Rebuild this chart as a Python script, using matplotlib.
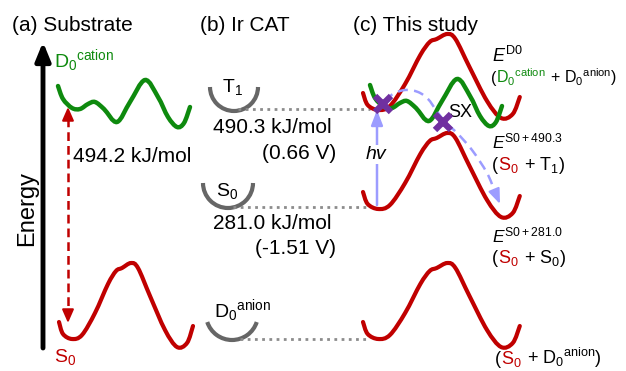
import numpy as np
from matplotlib import pyplot as plt
from matplotlib.path import Path
from matplotlib.patches import PathPatch, Arc, FancyArrowPatch

plt.rcParams['font.family'] = ['Liberation Sans', 'DejaVu Sans']
plt.rcParams['mathtext.fontset'] = 'custom'
plt.rcParams['mathtext.rm'] = 'Liberation Sans'
plt.rcParams['mathtext.it'] = 'Liberation Sans:italic'
plt.rcParams['mathtext.default'] = 'regular'

# Potential curve of the ground state (red):
red_x = [59, 63, 72, 82, 95, 108, 116, 122, 131, 138, 150, 165, 177, 187, 193]
red_y = [322, 334, 339, 335, 313, 284, 271, 268, 263, 268, 296, 330, 347, 343, 326]

# Radical cation curve (green):
green_x = [58, 63, 72, 80, 88, 95, 104, 117, 130, 145, 158, 168, 177, 184, 190]
green_y = [86, 99, 108, 109, 104, 102, 109, 122, 102, 80, 97, 117, 127, 123, 107]

# Ir catalyst levels (panel b):
level_names = ['$T_1$', '$S_0$', '$D_0{}^{anion}$']
level_energy = ['490.3 kJ/mol', '281.0 kJ/mol']
level_volts = ['(0.66 V)', '(-1.51 V)']
substrate_gap = '494.2 kJ/mol'

# Colours:
red = '#C00000'
green = '#0E8A0E'
grey = '#666666'
dotgrey = '#8C8C8C'
blue = '#9C9CFF'
purple = '#7030A0'

figure = plt.figure(figsize=(6.26, 3.71), dpi=100)
ax = figure.add_axes([0, 0, 1, 1])
ax.set_xlim(0, 626)
ax.set_ylim(371, 0)
ax.axis('off')


def smooth(xs, ys):
    pts = np.column_stack([xs, ys]).astype(float)
    verts = [pts[0]]
    codes = [Path.MOVETO]
    n = len(pts)
    for i in range(n - 1):
        p0 = pts[max(i - 1, 0)]
        p1 = pts[i]
        p2 = pts[i + 1]
        p3 = pts[min(i + 2, n - 1)]
        verts += [p1 + (p2 - p0) / 6, p2 - (p3 - p1) / 6, p2]
        codes += [Path.CURVE4] * 3
    return Path(verts, codes)


def curve(xs, ys, x0, y0, sx, color, lw, z=2):
    xs = np.array(xs, float)
    ys = np.array(ys, float)
    px = x0 + (xs - xs[0]) * sx
    py = y0 + (ys - ys[0])
    ax.add_patch(PathPatch(smooth(px, py), fill=False, ec=color, lw=lw,
                           capstyle='round', zorder=z))


def pieces(x, y, parts, size):
    r = figure.canvas.get_renderer()
    for s, c in parts:
        t = ax.text(x, y, s, color=c, fontsize=size, va='baseline', ha='left')
        x += t.get_window_extent(r).width


# Titles
ax.text(12, 31, '(a) Substrate', fontsize=15, va='baseline')
ax.text(200, 31, '(b) Ir CAT', fontsize=15, va='baseline')
ax.text(353, 31, '(c) This study', fontsize=15, va='baseline')

# Energy axis
ax.add_patch(FancyArrowPatch((43, 348), (43, 42), arrowstyle='-|>,head_width=0.45,head_length=1.1',
                             mutation_scale=10, lw=3.5, color='black', shrinkA=0, shrinkB=0))
ax.text(27, 209, 'Energy', fontsize=17, rotation=90, ha='center', va='center')

# Panel (a)
curve(green_x, green_y, 58, 86, 1.0, green, 3.2)
curve(red_x, red_y, 59, 322, 1.0, red, 3.0)
ax.plot([68, 68], [118, 312], color=red, lw=1.8, linestyle=(0, (3.5, 2)))
ax.add_patch(FancyArrowPatch((68, 120), (68, 107), arrowstyle='-|>,head_width=0.35,head_length=0.8',
                             mutation_scale=10, lw=1.5, color=red, shrinkA=0, shrinkB=0))
ax.add_patch(FancyArrowPatch((68, 310), (68, 323), arrowstyle='-|>,head_width=0.35,head_length=0.8',
                             mutation_scale=10, lw=1.5, color=red, shrinkA=0, shrinkB=0))
ax.text(73, 162, substrate_gap, fontsize=15, va='baseline')
ax.text(54, 67, '$D_0{}^{cation}$', fontsize=14, color=green, va='baseline')
ax.text(54, 362, '$S_0$', fontsize=14, color=red, va='baseline')

# Panel (b)
ax.add_patch(Arc((234, 87), 48, 48, theta1=0, theta2=180, color=grey, lw=3))
ax.add_patch(Arc((228, 183), 50, 50, theta1=0, theta2=180, color=grey, lw=3))
ax.add_patch(Arc((232, 314), 52, 52, theta1=18, theta2=162, color=grey, lw=3))
ax.text(222, 92, level_names[0], fontsize=14, va='baseline')
ax.text(216, 196, level_names[1], fontsize=14, va='baseline')
ax.text(214, 317, level_names[2], fontsize=14, va='baseline')
dots = (0, (1, 1.6))
ax.plot([238, 370], [109, 109], color=dotgrey, lw=2, linestyle=dots)
ax.plot([233, 366], [207, 207], color=dotgrey, lw=2, linestyle=dots)
ax.plot([240, 368], [339, 339], color=dotgrey, lw=2, linestyle=dots)
ax.text(213, 133, level_energy[0], fontsize=15, va='baseline')
ax.text(336, 159, level_volts[0], fontsize=15, va='baseline', ha='right')
ax.text(213, 229, level_energy[1], fontsize=15, va='baseline')
ax.text(336, 254, level_volts[1], fontsize=15, va='baseline', ha='right')

# Panel (c)
curve(red_x, red_y, 363, 93, 1.17, red, 3.0)
curve(red_x, red_y, 363, 192, 1.17, red, 3.0)
curve(red_x, red_y, 363, 322, 1.17, red, 3.0)
curve(green_x, green_y, 370, 85, 1.0, green, 3.2, z=3)

# hv excitation
ax.add_patch(FancyArrowPatch((377, 205), (377, 110), arrowstyle='-|>,head_width=0.35,head_length=0.9',
                             mutation_scale=10, lw=1.8, color=blue, shrinkA=0, shrinkB=0, zorder=4))
ax.text(376, 159, 'hv', fontsize=14, style='italic', ha='center', va='baseline',
        bbox=dict(fc='white', ec='none', pad=1), zorder=5)

# relaxation path
path_x = [385, 393, 405, 418, 428, 436, 445, 457, 472, 487, 495]
path_y = [101, 94, 90, 92, 99, 110, 122, 133, 150, 173, 192]
ax.add_patch(PathPatch(smooth(path_x, path_y), fill=False, ec=blue, lw=1.8,
                       linestyle=(0, (4, 2.5)), zorder=4))
ax.add_patch(FancyArrowPatch((495, 192), (500, 204), arrowstyle='-|>,head_width=0.35,head_length=0.9',
                             mutation_scale=10, lw=1.5, color=blue, shrinkA=0, shrinkB=0, zorder=4))

cross_x = [383, 443]
cross_y = [104, 122]
ax.plot(cross_x, cross_y, linestyle='none', marker='x', markersize=11, mew=4.5, color=purple, zorder=6)
ax.text(448, 117, 'SX', fontsize=13, va='baseline')

# State labels on the right
pieces(492, 62, [('$\\mathit{E}^{D0}$', 'black')], 13)
pieces(491, 83, [('(', 'black'), ('$D_0{}^{cation}$', green), (' + $D_0{}^{anion}$)', 'black')], 11.5)
pieces(492, 148, [('$\\mathit{E}^{S0+490.3}$', 'black')], 12.5)
pieces(492, 170, [('(', 'black'), ('$S_0$', red), (' + $T_1$)', 'black')], 13)
pieces(492, 242, [('$\\mathit{E}^{S0+281.0}$', 'black')], 12.5)
pieces(492, 263, [('(', 'black'), ('$S_0$', red), (' + $S_0$)', 'black')], 13)
pieces(495, 364, [('(', 'black'), ('$S_0$', red), (' + $D_0{}^{anion}$)', 'black')], 13)

plt.savefig('out.png', dpi=100)
plt.close()
